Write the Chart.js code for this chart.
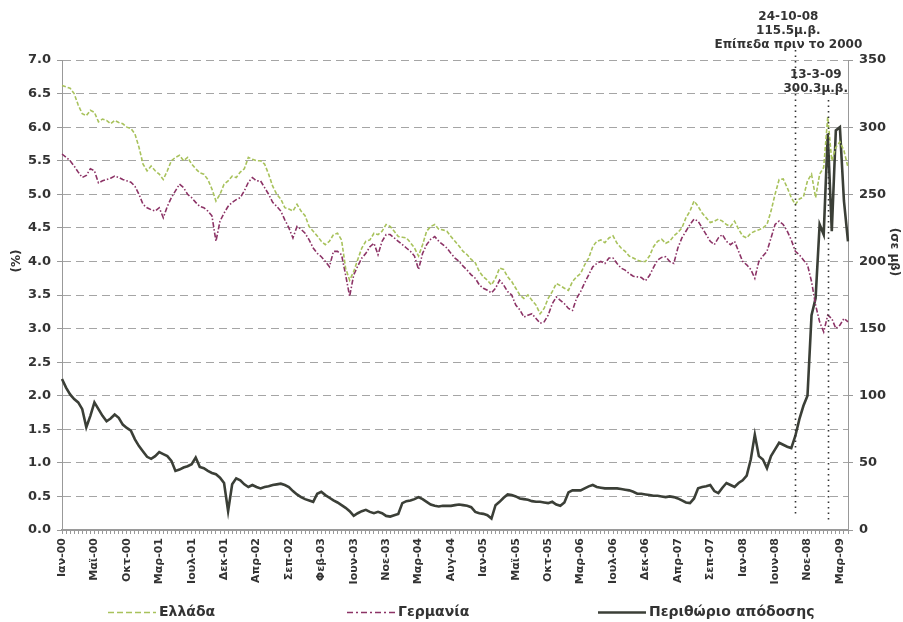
<!DOCTYPE html>
<html>
<head>
<meta charset="utf-8">
<script src="https://cdn.jsdelivr.net/npm/chart.js@4.4.0/dist/chart.umd.min.js"></script>
<style>
    html, body { margin: 0; padding: 0; background: #fff; }
</style>
</head>
<body>
<canvas id="chart" width="903" height="622"></canvas>
<script>
// ετικέτες άξονα x - μία κάθε 8 σημεία
var tickLabels = ['Ιαν-00', 'Μαϊ-00', 'Οκτ-00', 'Μαρ-01', 'Ιουλ-01', 'Δεκ-01', 'Απρ-02', 'Σεπ-02', 'Φεβ-03',
    'Ιουν-03', 'Νοε-03', 'Μαρ-04', 'Αυγ-04', 'Ιαν-05', 'Μαϊ-05', 'Οκτ-05', 'Μαρ-06', 'Ιουλ-06', 'Δεκ-06',
    'Απρ-07', 'Σεπ-07', 'Ιαν-08', 'Ιουν-08', 'Νοε-08', 'Μαρ-09'];
var pointsPerTick = 8;

// απόδοση 10ετών ομολόγων (%)
var greece = [
    6.62, 6.6, 6.58, 6.5, 6.33, 6.2, 6.17, 6.25, 6.22, 6.08,
    6.12, 6.1, 6.05, 6.1, 6.07, 6.05, 6.0, 5.98, 5.9, 5.7,
    5.45, 5.35, 5.42, 5.35, 5.3, 5.22, 5.35, 5.5, 5.55, 5.58,
    5.5, 5.55, 5.45, 5.38, 5.32, 5.3, 5.22, 5.08, 4.9, 5.0,
    5.15, 5.2, 5.27, 5.25, 5.33, 5.38, 5.55, 5.52, 5.5, 5.5,
    5.45, 5.3, 5.12, 5.0, 4.93, 4.8, 4.78, 4.75, 4.85, 4.75,
    4.68, 4.52, 4.45, 4.38, 4.3, 4.25, 4.3, 4.4, 4.42, 4.32,
    3.9, 3.72, 3.85, 4.03, 4.2, 4.3, 4.32, 4.42, 4.4, 4.45,
    4.55, 4.52, 4.45, 4.37, 4.36, 4.35, 4.28, 4.2, 4.08, 4.25,
    4.45, 4.52, 4.55, 4.48, 4.47, 4.45, 4.37, 4.3, 4.23, 4.15,
    4.1, 4.03, 3.98, 3.85, 3.77, 3.72, 3.65, 3.75, 3.9, 3.88,
    3.77, 3.7, 3.6, 3.5, 3.45, 3.5, 3.42, 3.35, 3.22, 3.3,
    3.45, 3.55, 3.67, 3.64, 3.6, 3.57, 3.7, 3.77, 3.82, 3.95,
    4.05, 4.22, 4.3, 4.32, 4.28, 4.35, 4.38, 4.27, 4.2, 4.15,
    4.08, 4.05, 4.02, 4.0, 4.0, 4.08, 4.22, 4.3, 4.33, 4.27,
    4.3, 4.38, 4.43, 4.5, 4.65, 4.75, 4.9, 4.82, 4.72, 4.65,
    4.58, 4.6, 4.63, 4.6, 4.55, 4.52, 4.6, 4.48, 4.38, 4.35,
    4.42, 4.45, 4.47, 4.5, 4.55, 4.75, 5.0, 5.22, 5.23, 5.1,
    4.95, 4.85, 4.93, 4.96, 5.2, 5.3, 4.95, 5.3, 5.4, 6.15,
    5.5, 5.7, 5.78, 5.65, 5.4
];
var germany = [
    5.6, 5.55, 5.5, 5.42, 5.33, 5.25, 5.28, 5.38, 5.35, 5.17,
    5.2, 5.22, 5.24, 5.27, 5.25, 5.22, 5.2, 5.18, 5.12, 5.0,
    4.85, 4.8, 4.77, 4.75, 4.8, 4.65, 4.82, 4.95, 5.05, 5.15,
    5.1, 5.0, 4.95, 4.88, 4.82, 4.8, 4.75, 4.68, 4.3, 4.6,
    4.72, 4.82, 4.88, 4.92, 4.95, 5.05, 5.18, 5.25, 5.2, 5.2,
    5.1, 5.0, 4.88, 4.82, 4.75, 4.62, 4.5, 4.35, 4.52, 4.48,
    4.42, 4.32, 4.2, 4.12, 4.07, 4.0, 3.92, 4.15, 4.15, 4.1,
    3.8, 3.48, 3.8, 3.93, 4.05, 4.12, 4.22, 4.27, 4.1, 4.3,
    4.4, 4.4, 4.35, 4.3, 4.25, 4.2, 4.15, 4.08, 3.88, 4.12,
    4.25, 4.33, 4.37, 4.3, 4.25, 4.2, 4.12, 4.05, 4.0, 3.93,
    3.87, 3.8, 3.75, 3.65, 3.6, 3.57, 3.53, 3.6, 3.72, 3.65,
    3.55, 3.5, 3.35, 3.28, 3.17, 3.2, 3.22, 3.15, 3.08, 3.1,
    3.2, 3.37, 3.47, 3.42, 3.37, 3.3, 3.27, 3.45, 3.55, 3.68,
    3.8, 3.92, 3.97, 4.0, 3.97, 4.05, 4.05, 3.97, 3.9, 3.87,
    3.82, 3.78, 3.77, 3.76, 3.71, 3.79, 3.91, 4.02, 4.06, 4.07,
    4.0, 3.97, 4.2, 4.35, 4.45, 4.55, 4.63, 4.6, 4.5, 4.4,
    4.3, 4.25, 4.35, 4.4, 4.3, 4.25, 4.3, 4.15, 4.0, 3.95,
    3.88, 3.75, 4.0, 4.08, 4.15, 4.35, 4.55, 4.6, 4.55, 4.45,
    4.32, 4.15, 4.1, 4.02, 3.95, 3.7, 3.35, 3.1, 2.95, 3.2,
    3.15, 3.0, 3.05, 3.15, 3.1
];
// περιθώριο απόδοσης (μ.β., δεξιός άξονας)
var spread = [
    112.5, 106, 101, 97.5, 95, 90, 76.5, 85, 95, 90,
    85, 81, 83, 86, 83.5, 78.5, 76, 74, 67.5, 62.5,
    58.5, 54.5, 53, 55, 58, 56.5, 55, 51.5, 44, 45,
    46.5, 47.5, 49, 54, 47, 46, 44, 42.5, 41.5, 39,
    35, 14, 34, 38.5, 37, 34, 32, 33.5, 32, 31,
    32, 32.5, 33.5, 34, 34.5, 33.5, 32, 29, 26.5, 24.5,
    23, 22, 21, 27, 28.5, 26, 24, 22, 20.5, 18.5,
    16.5, 14, 10.5, 12.5, 14, 15, 13.5, 12.5, 13.5, 12.5,
    10.5, 10, 11, 12, 20, 21.5, 22, 23, 24.5, 23,
    21, 19, 18, 17.5, 18, 18, 18, 18.5, 19, 18.5,
    18, 17, 13.5, 12.5, 12, 11, 8.5, 18.5, 21, 24,
    26.5, 26, 25, 23.5, 23, 22.5, 21.5, 21, 21, 20.5,
    20, 21, 19, 18, 20.5, 28, 29.5, 29.5, 29.5, 31,
    32.5, 33.5, 32, 31.5, 31, 31, 31, 31, 30.5, 30,
    29.5, 28.5, 27, 27, 26.5, 26, 25.5, 25.5, 25, 24.5,
    25, 24.5, 23.5, 22, 20.5, 20, 23.5, 31, 32, 32.5,
    33.5, 29, 27.5, 31.5, 35, 33.5, 32, 35, 37, 40.5,
    52.5, 71, 55, 52.5, 46, 55, 60, 65, 63.5, 62,
    61, 70, 82.5, 92.5, 100, 160, 172.5, 227.5, 220, 295,
    222.5, 297.5, 300, 245, 215
];

var categories = greece.map(function (v, i) {
    return i % pointsPerTick === 0 ? tickLabels[i / pointsPerTick] : '';
});

var green = '#a8c25c', purple = '#8c3366', dark = '#3b3f37', txt = '#333';
var boldFont = function (size) { return 'bold ' + size + 'px "DejaVu Sans"'; };

// σημειώσεις με διακεκομμένες κάθετες
var markers = [
    {index: 181, top: 50, bottom: 516, dx: -7, lines: ['24-10-08', '115.5μ.β.', 'Επίπεδα πριν το 2000'], y: 17},
    {index: 189, top: 100, bottom: 522, dx: -12, lines: ['13-3-09', '300.3μ.β.'], y: 75}
];

var legendItems = [
    {label: 'Ελλάδα', color: green, dash: [6, 3], width: 1.5, x: 108},
    {label: 'Γερμανία', color: purple, dash: [6, 3, 2, 3], width: 1.5, x: 347},
    {label: 'Περιθώριο απόδοσης', color: dark, dash: [], width: 2.5, x: 598}
];

var extras = {
    id: 'extras',
    afterDraw: function (chart) {
        var ctx = chart.ctx;
        var xs = chart.scales.x;
        ctx.save();
        // κάθετες γραμμές
        ctx.strokeStyle = '#333';
        ctx.lineWidth = 1.6;
        ctx.setLineDash([1.5, 4]);
        markers.forEach(function (m) {
            var px = Math.round(xs.getPixelForValue(m.index)) + 0.5;
            ctx.beginPath();
            ctx.moveTo(px, m.top);
            ctx.lineTo(px, m.bottom);
            ctx.stroke();
        });
        ctx.setLineDash([]);
        ctx.fillStyle = txt;
        ctx.font = boldFont(12);
        ctx.textAlign = 'center';
        ctx.textBaseline = 'middle';
        markers.forEach(function (m) {
            var px = xs.getPixelForValue(m.index) + m.dx;
            m.lines.forEach(function (s, k) {
                ctx.fillText(s, px, m.y + k * 14);
            });
        });

        // τίτλοι αξόνων
        ctx.font = boldFont(12);
        ctx.save();
        ctx.translate(17, 261);
        ctx.rotate(-Math.PI / 2);
        ctx.fillText('(%)', 0, 0);
        ctx.restore();
        ctx.save();
        ctx.translate(894, 252);
        ctx.rotate(Math.PI / 2);
        ctx.fillText('(σε μβ)', 0, 0);
        ctx.restore();

        // υπόμνημα
        ctx.textAlign = 'left';
        ctx.font = boldFont(14);
        legendItems.forEach(function (it) {
            ctx.strokeStyle = it.color;
            ctx.lineWidth = it.width;
            ctx.setLineDash(it.dash);
            ctx.beginPath();
            ctx.moveTo(it.x, 612.5);
            ctx.lineTo(it.x + 48, 612.5);
            ctx.stroke();
            ctx.setLineDash([]);
            ctx.fillStyle = txt;
            ctx.fillText(it.label, it.x + 51, 612);
        });
        ctx.restore();
    }
};

var ctx = document.getElementById('chart').getContext('2d');
var chart = new Chart(ctx, {
    type: 'line',
    data: {
        labels: categories,
        datasets: [
            {
                label: 'Ελλάδα',
                data: greece,
                yAxisID: 'y',
                borderColor: green,
                borderWidth: 1.6,
                borderDash: [4, 2]
            },
            {
                label: 'Γερμανία',
                data: germany,
                yAxisID: 'y',
                borderColor: purple,
                borderWidth: 1.6,
                borderDash: [5, 2, 1.5, 2]
            },
            {
                label: 'Περιθώριο απόδοσης',
                data: spread,
                yAxisID: 'y1',
                borderColor: dark,
                borderWidth: 2.6
            }
        ]
    },
    options: {
        responsive: false,
        animation: false,
        events: [],
        layout: {padding: {top: 60, left: 0, right: 0, bottom: 32}},
        elements: {point: {radius: 0}, line: {tension: 0, fill: false}},
        plugins: {legend: {display: false}, tooltip: {enabled: false}},
        scales: {
            x: {
                grid: {drawOnChartArea: false, tickLength: 4, color: '#999'},
                border: {color: '#9a9a9a', width: 2},
                ticks: {
                    autoSkip: false,
                    minRotation: 90,
                    maxRotation: 90,
                    padding: 4,
                    color: txt,
                    font: {family: 'DejaVu Sans', size: 11, weight: 'bold'},
                    callback: function (v) { return this.getLabelForValue(v); }
                },
                afterFit: function (s) { s.height = 60; }
            },
            y: {
                position: 'left',
                min: 0,
                max: 7,
                grid: {color: '#a5a5a5', tickLength: 5, tickColor: '#999'},
                border: {color: '#999', width: 1, dash: [8, 5]},
                ticks: {
                    stepSize: 0.5,
                    padding: 6,
                    color: txt,
                    font: {family: 'DejaVu Sans', size: 13, weight: 'bold'},
                    callback: function (v) { return v.toFixed(1); }
                },
                afterFit: function (s) { s.width = 62; }
            },
            y1: {
                position: 'right',
                min: 0,
                max: 350,
                grid: {drawOnChartArea: false, tickLength: 5, color: '#999'},
                border: {color: '#999', width: 1},
                ticks: {
                    stepSize: 50,
                    padding: 6,
                    color: txt,
                    font: {family: 'DejaVu Sans', size: 13, weight: 'bold'}
                },
                afterFit: function (s) { s.width = 55; }
            }
        }
    },
    plugins: [extras]
});
</script>
</body>
</html>
